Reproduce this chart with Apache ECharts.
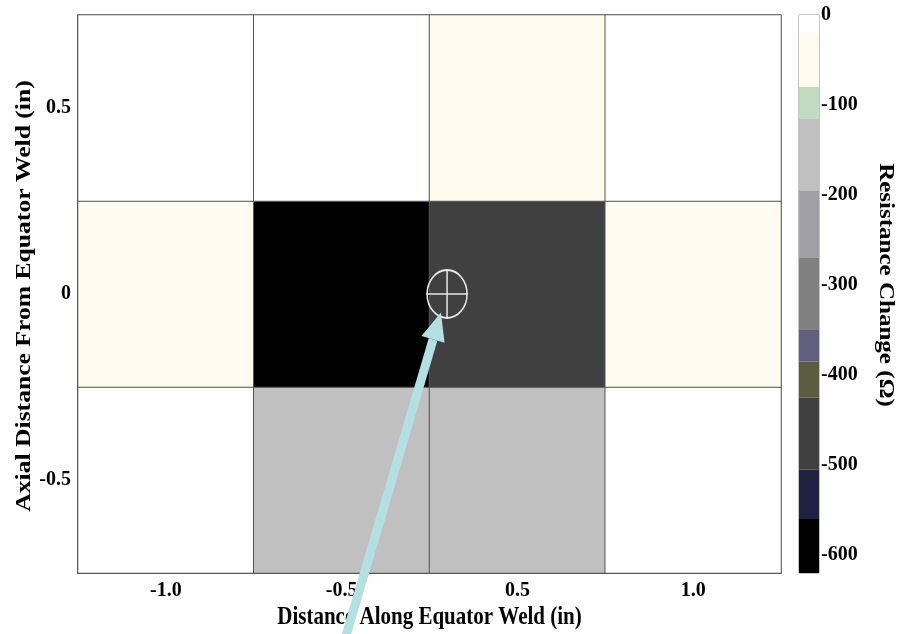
<!DOCTYPE html>
<html>
<head>
<meta charset="utf-8">
<script src="https://cdn.jsdelivr.net/npm/echarts@6/dist/echarts.min.js"></script>
<style>
  html, body { margin: 0; padding: 0; background: #fff; }
  #main { width: 901px; height: 634px; }
</style>
</head>
<body>
<div id="main"></div>
<script>
// grid categories
const xCats = ['-1.0', '-0.5', '0.5', '1.0'];
const yCats = ['-0.5', '0', '0.5'];

// resistance change per cell, one array per row (ohm)
const rowTop = [-5, -5, -50, -5];        // y = 0.5
const rowMid = [-50, -600, -470, -50];   // y = 0
const rowBottom = [-5, -150, -150, -5];  // y = -0.5

// colour bar bands (upper / lower bound and colour)
const bandHigh = [0, -20, -80, -115, -195, -270, -350, -385, -425, -505, -560];
const bandLow = [-20, -80, -115, -195, -270, -350, -385, -425, -505, -560, -620];
const bandColors = ['#ffffff', '#fffbee', '#c2dcc2', '#c0c0c0', '#a0a0a6', '#808080',
  '#60607e', '#5c5c40', '#404040', '#202040', '#000000'];
const barTicks = [0, -100, -200, -300, -400, -500, -600];

// marker circle and arrow tip/tail, in category index units
const marker = [1.6, 1];
const arrowTip = [1.565, 0.9];
const arrowTail = [0.99, -0.95];

const cells = [];
[rowBottom, rowMid, rowTop].forEach(function (row, yi) {
  row.forEach(function (v, xi) { cells.push([xi, yi, v]); });
});
const bands = bandHigh.map(function (h, i) { return [0, bandLow[i], h]; });

const serif = '"Liberation Serif", "Times New Roman", serif';
const tickFont = { fontFamily: serif, fontWeight: 'bold', fontSize: 20, color: '#000' };

const chart = echarts.init(document.getElementById('main'));
chart.setOption({
  animation: false,
  backgroundColor: '#fff',
  grid: [
    { left: 78, top: 15, width: 703, height: 558, show: true, borderColor: '#888', borderWidth: 1 },
    { left: 799, top: 15, width: 20, height: 558, show: true, borderColor: '#888', borderWidth: 1 }
  ],
  xAxis: [
    {
      type: 'category', gridIndex: 0, data: xCats,
      axisLine: { lineStyle: { color: '#000', width: 1.5 } },
      axisTick: { show: false },
      axisLabel: Object.assign({ margin: 8 }, tickFont),
      splitLine: { show: false }
    },
    { type: 'category', gridIndex: 1, data: ['c'], show: false }
  ],
  yAxis: [
    {
      type: 'category', gridIndex: 0, data: yCats,
      axisLine: { lineStyle: { color: '#000', width: 1.5 } },
      axisTick: { show: false },
      axisLabel: Object.assign({ margin: 7 }, tickFont),
      splitLine: { show: false }
    },
    {
      type: 'value', gridIndex: 1, position: 'right', min: -620, max: 0,
      axisLine: { show: false },
      axisTick: { show: true, inside: true, length: 4, customValues: barTicks.slice(1, 6),
        lineStyle: { color: '#222' } },
      axisLabel: Object.assign({ margin: 2, customValues: barTicks }, tickFont),
      splitLine: { show: false }
    }
  ],
  visualMap: {
    show: false, type: 'piecewise', seriesIndex: 0, dimension: 2,
    pieces: bandHigh.map(function (h, i) {
      return { gt: bandLow[i], lte: h, color: bandColors[i] };
    })
  },
  series: [
    {
      type: 'heatmap', xAxisIndex: 0, yAxisIndex: 0, data: cells,
      itemStyle: { borderColor: '#555', borderWidth: 1 },
      emphasis: { disabled: true }
    },
    {
      type: 'custom', xAxisIndex: 1, yAxisIndex: 1, data: bands,
      renderItem: function (params, api) {
        const top = api.coord([0, api.value(2)]);
        const bottom = api.coord([0, api.value(1)]);
        const w = api.size([1, 0])[0];
        return {
          type: 'rect',
          shape: { x: top[0] - w / 2, y: top[1], width: w, height: bottom[1] - top[1] },
          style: { fill: bandColors[params.dataIndex] }
        };
      },
      z: 1
    }
  ]
});

// category axes only give whole indices, so interpolate between two of them
const p0 = chart.convertToPixel({ xAxisIndex: 0, yAxisIndex: 0 }, [0, 0]);
const p1 = chart.convertToPixel({ xAxisIndex: 0, yAxisIndex: 0 }, [1, 1]);
function toPx(v) {
  return [p0[0] + (p1[0] - p0[0]) * v[0], p0[1] + (p1[1] - p0[1]) * v[1]];
}
const g0 = chart.getModel().getComponent('grid', 0).coordinateSystem.getRect();
const g1 = chart.getModel().getComponent('grid', 1).coordinateSystem.getRect();

const c = toPx(marker);
const tip = toPx(arrowTip);
const tail = toPx(arrowTail);
const dx = tip[0] - tail[0], dy = tip[1] - tail[1];
const len = Math.sqrt(dx * dx + dy * dy);
const ux = dx / len, uy = dy / len;
const headLen = 28, headW = 12;
const bx = tip[0] - ux * headLen, by = tip[1] - uy * headLen;
const ringStyle = { stroke: '#e8e8e8', lineWidth: 1.5, fill: null };
const nameStyle = { fontFamily: serif, fontWeight: 'bold', fill: '#000', align: 'center', verticalAlign: 'middle' };

chart.setOption({
  graphic: [
    { type: 'circle', x: c[0], y: c[1], scaleY: 1.2, shape: { cx: 0, cy: 0, r: 20 }, style: ringStyle, z: 10 },
    { type: 'line', shape: { x1: c[0] - 21, y1: c[1], x2: c[0] + 21, y2: c[1] }, style: ringStyle, z: 10 },
    { type: 'line', shape: { x1: c[0], y1: c[1] - 25, x2: c[0], y2: c[1] + 25 }, style: ringStyle, z: 10 },
    { type: 'line', shape: { x1: tail[0], y1: tail[1], x2: bx, y2: by },
      style: { stroke: '#b4e0e4', lineWidth: 9 }, z: 11 },
    { type: 'polygon', shape: { points: [
        [tip[0], tip[1]],
        [bx - uy * headW, by + ux * headW],
        [bx + uy * headW, by - ux * headW]
      ] }, style: { fill: '#b4e0e4' }, z: 11 },
    // axis titles (the source figure is stretched vertically)
    { type: 'text', x: g0.x + g0.width / 2, y: g0.y + g0.height + 44, scaleY: 1.2,
      style: Object.assign({ text: 'Distance Along Equator Weld (in)', fontSize: 21 }, nameStyle), z: 5 },
    { type: 'text', x: g0.x - 53, y: g0.y + g0.height / 2 + 2, rotation: Math.PI / 2, scaleX: 1.22,
      style: Object.assign({ text: 'Axial Distance From Equator Weld (in)', fontSize: 21 }, nameStyle), z: 5 },
    { type: 'text', x: g1.x + g1.width + 66, y: g1.y + 270, rotation: -Math.PI / 2, scaleX: 1.25,
      style: Object.assign({ text: 'Resistance Change (Ω)', fontSize: 20 }, nameStyle), z: 5 }
  ]
});
</script>
</body>
</html>
